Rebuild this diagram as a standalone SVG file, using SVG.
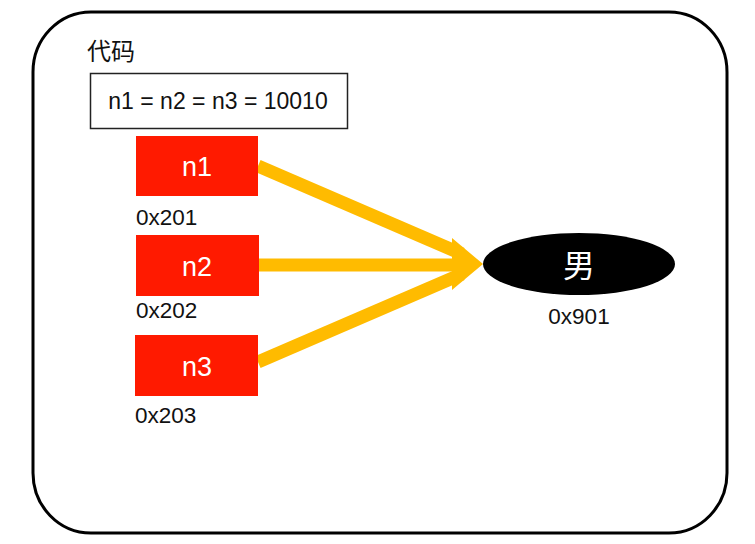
<svg xmlns="http://www.w3.org/2000/svg" width="755" height="544" viewBox="0 0 755 544">
<style>
.var{fill:#ff1a00}
.vt{font-family:"Liberation Sans","Noto Sans",sans-serif;font-size:27px;fill:#ffffff;text-anchor:middle}
.addr{font-family:"Liberation Sans","Noto Sans",sans-serif;font-size:22.5px;fill:#111111}
.conn{stroke:#ffbb00;stroke-width:13;fill:none}
</style>
<rect width="755" height="544" fill="#ffffff"/>
<rect x="33" y="12" width="694" height="521" rx="58" ry="60" fill="none" stroke="#000000" stroke-width="3"/>
<text x="87" y="60" font-family="'Noto Sans CJK SC',sans-serif" font-size="24" fill="#111111">代码</text>
<g id="code">
<rect x="90.5" y="73.5" width="257" height="55" fill="#ffffff" stroke="#222222" stroke-width="1.5"/>
<text x="218" y="109" font-family="'Liberation Sans','Noto Sans',sans-serif" font-size="23" fill="#111111" text-anchor="middle">n1 = n2 = n3 = 10010</text>
</g>
<g id="connectors">
<line class="conn" x1="258" y1="166" x2="462" y2="254"/>
<line class="conn" x1="259" y1="265" x2="460" y2="265"/>
<line class="conn" x1="258" y1="362" x2="462" y2="274"/>
<polygon points="452,238 483,264 452,290" fill="#ffbb00"/>
</g>
<g id="n1">
<rect class="var" x="136" y="136" width="122" height="60"/>
<text class="vt" x="197" y="176">n1</text>
<text class="addr" x="136" y="225">0x201</text>
</g>
<g id="n2">
<rect class="var" x="136" y="235" width="123" height="61"/>
<text class="vt" x="197" y="276">n2</text>
<text class="addr" x="136" y="318">0x202</text>
</g>
<g id="n3">
<rect class="var" x="135" y="335" width="123" height="61"/>
<text class="vt" x="197" y="376">n3</text>
<text class="addr" x="135" y="423">0x203</text>
</g>
<g id="obj">
<ellipse cx="579" cy="264" rx="96" ry="31" fill="#000000"/>
<text x="579" y="277" font-family="'Noto Sans CJK SC',sans-serif" font-size="32" fill="#ffffff" text-anchor="middle">男</text>
<text class="addr" x="579" y="324" text-anchor="middle">0x901</text>
</g>
</svg>
